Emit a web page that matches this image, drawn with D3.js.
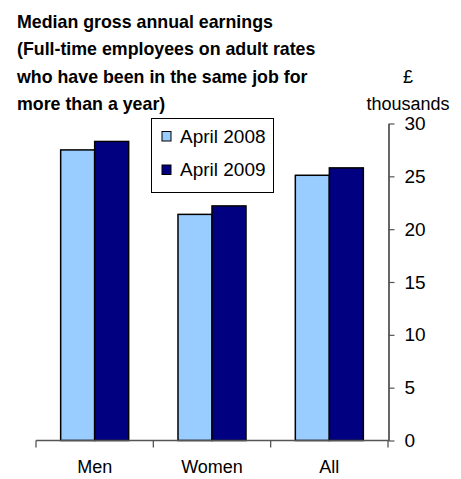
<!DOCTYPE html>
<html>
<head>
<meta charset="utf-8">
<script src="https://cdn.jsdelivr.net/npm/d3@7"></script>
<style>
  html, body { margin: 0; padding: 0; background: #fff; }
  svg { display: block; font-family: "Liberation Sans", Arial, sans-serif; }
</style>
</head>
<body>
<svg id="chart" width="461" height="479"></svg>
<script>
const categories = ["Men", "Women", "All"];
const seriesNames = ["April 2008", "April 2009"];
const values2008 = [27.5, 21.4, 25.1];
const values2009 = [28.3, 22.2, 25.8];
const yTicks = [0, 5, 10, 15, 20, 25, 30];
const titleLines = [
  "Median gross annual earnings",
  "(Full-time employees on adult rates",
  "who have been in the same job for",
  "more than a year)"
];
const colors = ["#99CCFF", "#000080"];

const svg = d3.select("#chart");

const x0 = d3.scaleBand().domain(categories).range([36, 388]).padding(0);
const x1 = d3.scaleBand().domain(seriesNames).range([0, x0.bandwidth()]).paddingInner(0).paddingOuter(0.725);
const y = d3.scaleLinear().domain([0, 30]).range([440.5, 123.5]);

// title
svg.append("g").selectAll("text").data(titleLines).join("text")
  .attr("x", 17).attr("y", (d, i) => 27.5 + i * 27.5)
  .attr("font-size", 17.8).attr("font-weight", "bold").attr("fill", "#000")
  .text(d => d);

// unit label
svg.append("text").attr("x", 408).attr("y", 83).attr("text-anchor", "middle")
  .attr("font-size", 18).text("£");
svg.append("text").attr("x", 408).attr("y", 110).attr("text-anchor", "middle")
  .attr("font-size", 18).text("thousands");

// bars
const data = categories.map((c, i) => ({ cat: c, vals: [values2008[i], values2009[i]] }));
const groups = svg.append("g").selectAll("g").data(data).join("g")
  .attr("transform", d => `translate(${x0(d.cat)},0)`);
groups.selectAll("rect").data(d => d.vals.map((v, j) => ({ name: seriesNames[j], v, j })))
  .join("rect")
  .attr("x", d => x1(d.name))
  .attr("y", d => y(d.v))
  .attr("width", x1.bandwidth())
  .attr("height", d => y(0) - y(d.v))
  .attr("fill", d => colors[d.j])
  .attr("stroke", "#000").attr("stroke-width", 1.5);

// x axis
const xAxisG = svg.append("g").attr("transform", `translate(0,${y(0)})`);
xAxisG.append("line").attr("x1", 36).attr("x2", 388).attr("y1", 0).attr("y2", 0)
  .attr("stroke", "#555").attr("stroke-width", 1.3);
const xTickPos = categories.map(c => x0(c)).concat([x0(categories[categories.length - 1]) + x0.bandwidth()]);
xAxisG.selectAll("line.tick").data(xTickPos).join("line").attr("class", "tick")
  .attr("x1", d => d).attr("x2", d => d).attr("y1", 0).attr("y2", 7)
  .attr("stroke", "#555").attr("stroke-width", 1.3);
xAxisG.selectAll("text").data(categories).join("text")
  .attr("x", d => x0(d) + x0.bandwidth() / 2).attr("y", 32)
  .attr("text-anchor", "middle").attr("font-size", 18).text(d => d);

// y axis (right)
const yAxis = d3.axisRight(y).tickValues(yTicks).tickSize(6).tickPadding(10).tickSizeOuter(0);
const yAxisG = svg.append("g").attr("transform", "translate(388.5,0)").call(yAxis);
yAxisG.select(".domain").attr("stroke", "#000").attr("stroke-width", 1.2);
yAxisG.selectAll(".tick line").attr("stroke", "#555").attr("stroke-width", 1.2);
yAxisG.selectAll(".tick text").attr("font-size", 19).attr("fill", "#000")
  .attr("font-family", "'Liberation Sans', Arial, sans-serif");

// legend
const legend = svg.append("g");
legend.append("rect").attr("x", 151.5).attr("y", 118.5).attr("width", 122).attr("height", 74)
  .attr("fill", "#fff").attr("stroke", "#000").attr("stroke-width", 1);
const li = legend.selectAll("g").data(seriesNames).join("g")
  .attr("transform", (d, i) => `translate(0,${i * 33.5})`);
li.append("rect").attr("x", 162).attr("y", 131.5).attr("width", 9).attr("height", 9.5)
  .attr("fill", (d, i) => colors[i]).attr("stroke", "#000").attr("stroke-width", 1);
li.append("text").attr("x", 180).attr("y", 142.5).attr("font-size", 19).text(d => d);
</script>
</body>
</html>
